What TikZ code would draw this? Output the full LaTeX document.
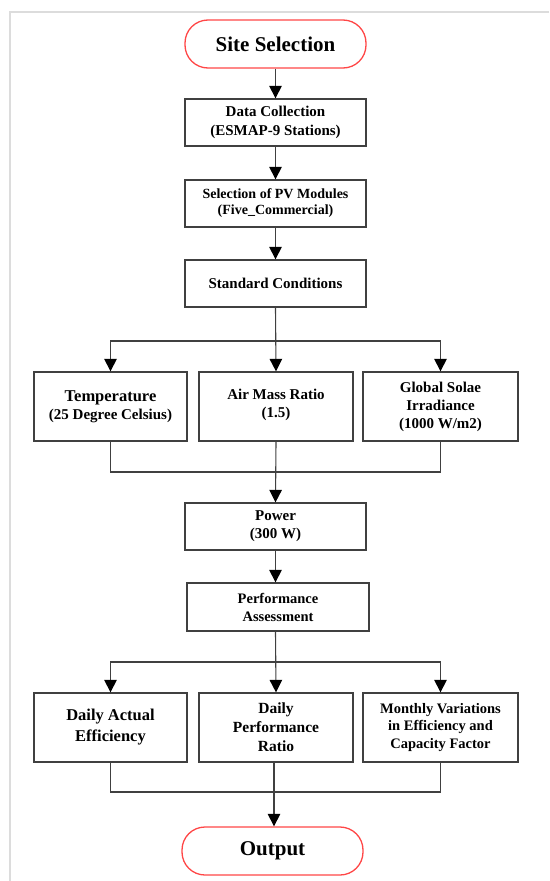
\documentclass[tikz,border=0pt]{standalone}
\usepackage{fontspec}
\setmainfont{Liberation Serif}
\usetikzlibrary{arrows.meta,positioning}
\definecolor{linegray}{RGB}{64,64,64}
\definecolor{termred}{RGB}{255,70,70}
\definecolor{framegray}{RGB}{220,220,220}

\begin{document}
\begin{tikzpicture}[
  x=1pt, y=-1pt,
  every node/.style={align=center, font=\bfseries\fontsize{15}{18}\selectfont},
  stepbox/.style={draw=linegray, line width=1.3pt, inner sep=0pt},
  termbox/.style={draw=termred, line width=1.3pt, rounded corners=23pt,
    minimum width=181pt, minimum height=48pt, inner sep=0pt,
    font=\bfseries\fontsize{21}{24}\selectfont},
  midbox/.style={stepbox, minimum width=181pt, minimum height=47pt},
  sidebox/.style={stepbox, minimum width=154pt, minimum height=69pt},
  arr/.style={draw=linegray, line width=1.1pt, -{Triangle[width=12.5pt,length=12.5pt,fill=black,color=black]}},
  link/.style={draw=linegray, line width=1.1pt},
]
\useasboundingbox (0,0) rectangle (549,881);
\draw[framegray, line width=2pt] (549,12) -- (10,12) -- (10,881);

\node[termbox] (site) at (275.5,44) {Site Selection};
\node[midbox] (data) at (275.5,122.5) {Data Collection\\[1pt](ESMAP-9 Stations)};
\node[midbox, font=\bfseries\fontsize{14}{16}\selectfont] (pv) at (275.5,203.5) {Selection of PV Modules\\(Five\_Commercial)};
\node[midbox] (std) at (275.5,283.5) {Standard Conditions};

\node[sidebox, minimum width=153pt] (temp) at (110.5,406.5) {{\fontsize{16.5}{18}\selectfont Temperature}\\(25 Degree Celsius)};
\node[sidebox] (air) at (276,406.5) {Air Mass Ratio\\(1.5)\\[-12pt]};
\node[sidebox, minimum width=155pt] (glob) at (440.5,406.5) {Global Solae\\Irradiance\\(1000 W/m2)};

\node[midbox] (power) at (275.5,526.5) {Power\\(300 W)};
\node[midbox, minimum width=182pt, minimum height=48pt, font=\bfseries\fontsize{14.5}{18}\selectfont] (perf) at (278,607) {Performance\\Assessment};

\node[sidebox, minimum width=153pt, font=\bfseries\fontsize{16.5}{21}\selectfont] (eff) at (110.5,727.5) {Daily Actual\\Efficiency};
\node[sidebox, font=\bfseries\fontsize{15.5}{19}\selectfont] (ratio) at (276,727.5) {Daily\\Performance\\Ratio};
\node[sidebox, minimum width=155pt, font=\bfseries\fontsize{14.5}{17.5}\selectfont] (month) at (440.5,727.5) {Monthly Variations\\in Efficiency and\\Capacity Factor};

\node[termbox] (out) at (272.5,851) {Output};

\coordinate (split1) at (275,341);
\coordinate (join1) at (275,472);
\coordinate (split2) at (275,662);
\coordinate (join2) at (274,792);

\draw[arr] (site) -- (data);
\draw[arr] (data) -- (pv);
\draw[arr] (pv) -- (std);

\draw[arr] (std.south) -- (air.north);
\draw[arr] (split1) -| (temp.north);
\draw[arr] (split1) -| (glob.north);
\draw[link] (temp.south) |- (join1) -| (glob.south);
\draw[arr] (air.south) -- (power.north);

\draw[arr] (power.south) -- (power.south |- perf.north);
\draw[arr] (power.south |- perf.south) -- (ratio.north);
\draw[arr] (split2) -| (eff.north);
\draw[arr] (split2) -| (month.north);
\draw[link] (eff.south) |- (join2) -| (month.south);
\draw[arr] (ratio.south -| join2) -- (out.north -| join2);
\end{tikzpicture}
\end{document}
